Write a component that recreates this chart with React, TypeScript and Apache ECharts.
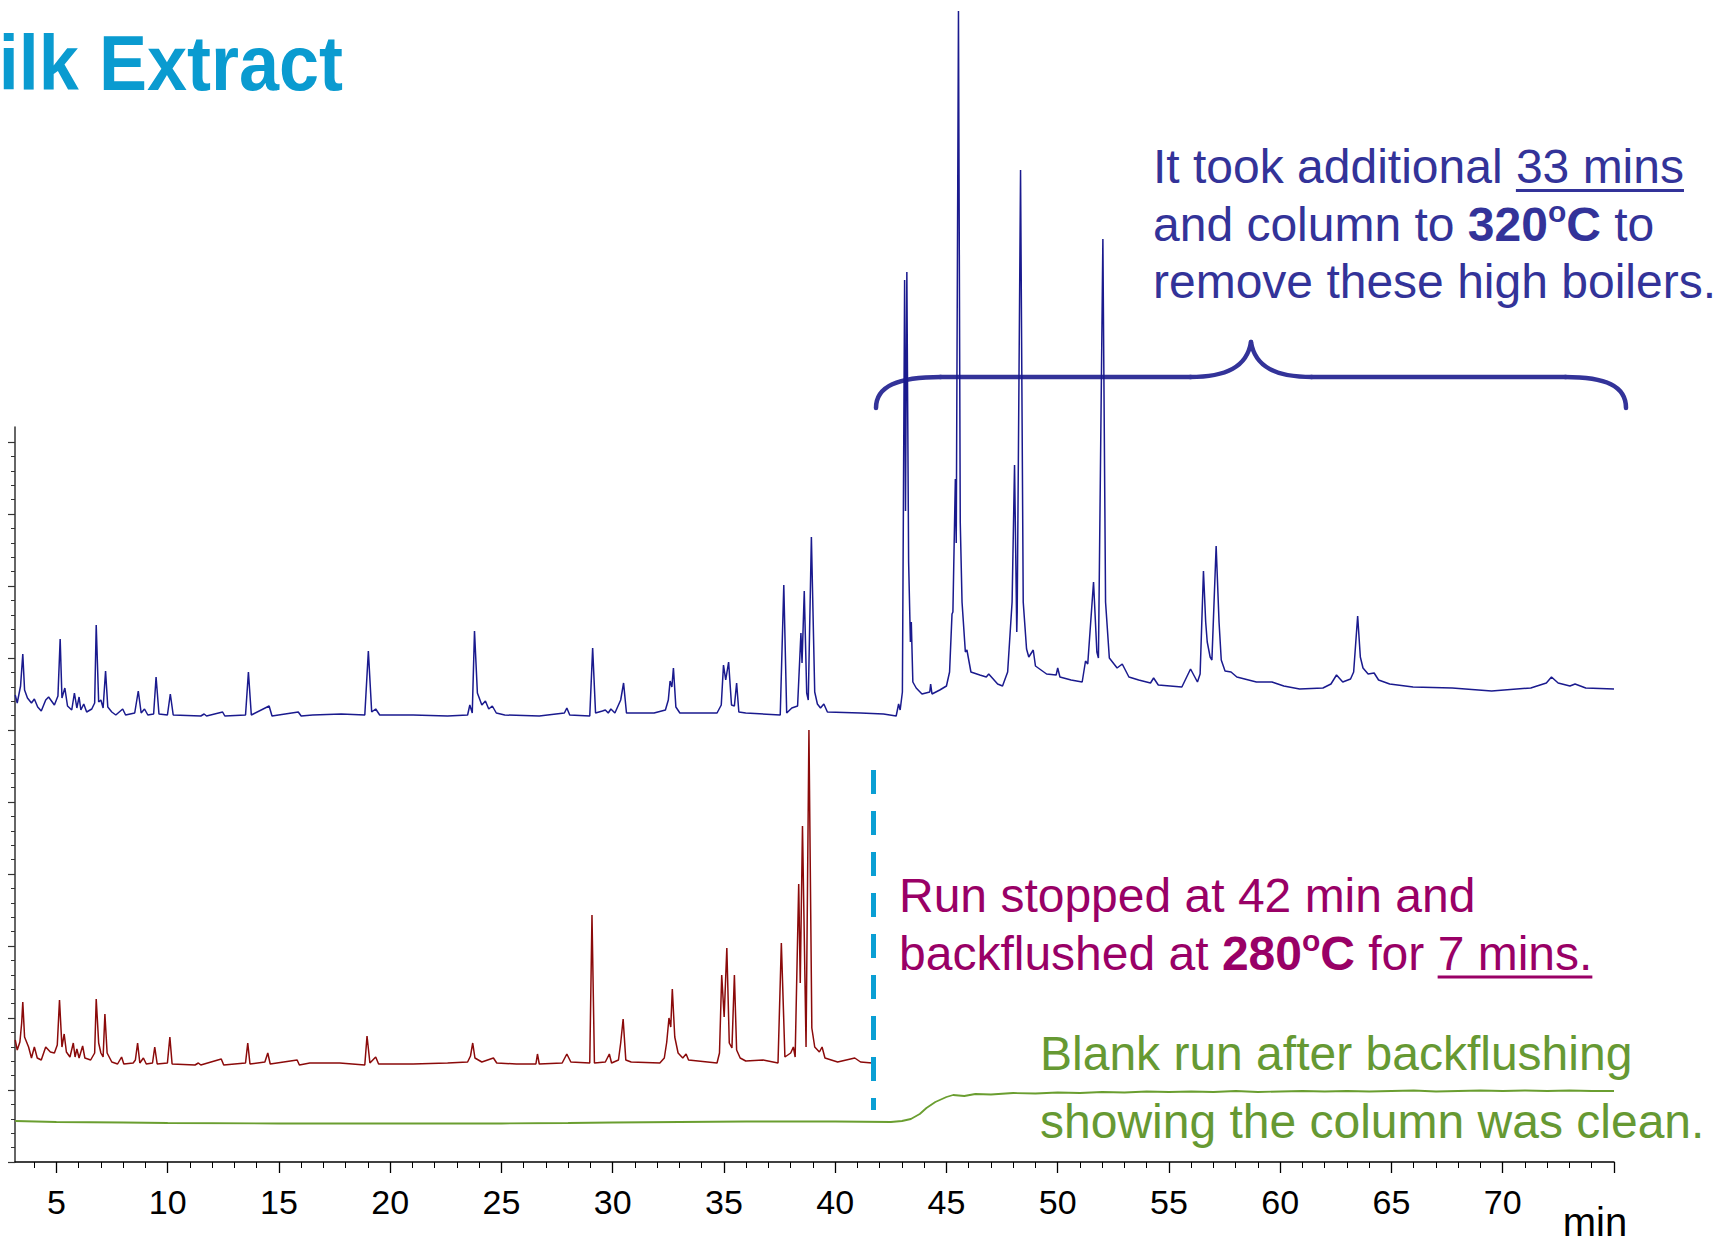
import React, { useEffect, useRef } from "react";
import * as echarts from "echarts";

const FONT = '"Liberation Sans", Arial, Helvetica, sans-serif';

// x axis (retention time, min)
const xTickLabels = [5, 10, 15, 20, 25, 30, 35, 40, 45, 50, 55, 60, 65, 70];
const xMajorTicks = [5, 10, 15, 20, 25, 30, 35, 40, 45, 50, 55, 60, 65, 70, 75];
const xMinorTicks = [4, 6, 7, 8, 9, 11, 12, 13, 14, 16, 17, 18, 19, 21, 22, 23, 24, 26, 27, 28, 29, 31, 32, 33, 34, 36, 37, 38, 39, 41, 42, 43, 44, 46, 47, 48, 49, 51, 52, 53, 54, 56, 57, 58, 59, 61, 62, 63, 64, 66, 67, 68, 69, 71, 72, 73, 74];
// decorative y axis ticks (arbitrary response units)
const yMajorTicks = [0, 72, 144, 216, 288, 360, 432, 504, 576, 648, 720];
const yMinorTicks = [14.4, 28.8, 43.2, 57.6, 86.4, 100.8, 115.2, 129.6, 158.4, 172.8, 187.2, 201.6, 230.4, 244.8, 259.2, 273.6, 302.4, 316.8, 331.2, 345.6, 374.4, 388.8, 403.2, 417.6, 446.4, 460.8, 475.2, 489.6, 518.4, 532.8, 547.2, 561.6, 590.4, 604.8, 619.2, 633.6, 662.4, 676.8, 691.2, 705.6];

// Blue trace: full run to 75 min (stacked, offset baseline ~446)
const blueTrace: [number, number][] = [
  [3.15, 467], [3.24, 459], [3.39, 476], [3.49, 508], [3.57, 472], [3.7, 464], [3.88, 459], [4.01, 463], [4.16, 455], [4.32, 451],
  [4.52, 462], [4.65, 465], [4.91, 457], [5.07, 466], [5.17, 523], [5.25, 464], [5.38, 474], [5.5, 456], [5.69, 452], [5.81, 469],
  [5.92, 454], [6.02, 465], [6.1, 452], [6.23, 458], [6.36, 450], [6.59, 453], [6.72, 459], [6.79, 537], [6.9, 460], [7.0, 462],
  [7.1, 454], [7.21, 491], [7.31, 455], [7.49, 450], [7.67, 447], [7.98, 453], [8.11, 447], [8.52, 449], [8.68, 471], [8.81, 449],
  [8.96, 453], [9.11, 447], [9.37, 448], [9.48, 485], [9.61, 448], [9.99, 447], [10.12, 468], [10.25, 447], [11.49, 446], [11.64, 448],
  [11.75, 446], [12.47, 450], [12.57, 446], [13.5, 447], [13.63, 490], [13.76, 447], [14.56, 456], [14.69, 446], [15.87, 450], [16.0, 446],
  [16.52, 447], [17.8, 448], [18.86, 447], [19.02, 511], [19.17, 450], [19.35, 453], [19.53, 447], [21.03, 447], [22.58, 446], [23.48, 447],
  [23.58, 457], [23.69, 449], [23.79, 531], [23.92, 469], [24.12, 457], [24.28, 461], [24.43, 453], [24.59, 456], [24.77, 449], [25.15, 447],
  [26.7, 446], [27.83, 449], [27.94, 454], [28.07, 447], [28.97, 446], [29.1, 514], [29.23, 449], [29.54, 451], [29.67, 452], [29.8, 449],
  [29.92, 453], [30.1, 449], [30.36, 462], [30.49, 479], [30.62, 449], [30.83, 449], [31.86, 449], [32.37, 452], [32.5, 462], [32.58, 481],
  [32.66, 475], [32.73, 494], [32.84, 455], [33.02, 449], [34.69, 449], [34.88, 457], [34.98, 497], [35.08, 482], [35.21, 500], [35.34, 457],
  [35.47, 456], [35.57, 479], [35.67, 450], [35.98, 449], [37.53, 447], [37.69, 577], [37.82, 449], [38.05, 454], [38.31, 456], [38.46, 529],
  [38.51, 499], [38.61, 571], [38.72, 469], [38.79, 462], [38.93, 625], [39.08, 470], [39.2, 458], [39.34, 454], [39.49, 458], [39.65, 450],
  [41.14, 449], [42.17, 448], [42.74, 446], [42.85, 458], [42.92, 452], [43.02, 470], [43.12, 882], [43.16, 651], [43.22, 890], [43.3, 600],
  [43.38, 520], [43.42, 540], [43.49, 480], [43.64, 474], [43.9, 468], [44.25, 470], [44.29, 478], [44.35, 468], [44.7, 472], [45.0, 476],
  [45.14, 490], [45.25, 548], [45.29, 550], [45.4, 683], [45.44, 619], [45.54, 1151], [45.62, 640], [45.7, 560], [45.85, 510], [45.92, 512],
  [46.1, 490], [46.5, 487], [46.79, 485], [46.9, 488], [47.3, 478], [47.52, 476], [47.75, 490], [47.95, 560], [48.06, 697], [48.16, 530],
  [48.18, 550], [48.33, 992], [48.45, 560], [48.6, 513], [48.7, 505], [48.9, 512], [49.0, 496], [49.5, 488], [49.93, 487], [50.0, 494],
  [50.1, 485], [50.6, 482], [51.1, 480], [51.25, 501], [51.35, 498], [51.61, 580], [51.76, 510], [51.83, 504], [52.03, 923], [52.15, 560],
  [52.32, 504], [52.67, 494], [52.9, 498], [53.2, 485], [53.64, 482], [54.17, 479], [54.31, 484], [54.52, 477], [55.58, 475], [55.97, 493],
  [56.28, 480], [56.4, 488], [56.55, 591], [56.65, 540], [56.72, 520], [56.85, 505], [56.93, 502], [57.12, 616], [57.25, 540], [57.35, 502],
  [57.52, 491], [57.79, 490], [58.05, 485], [58.93, 480], [59.63, 480], [60.16, 476], [60.87, 473], [61.92, 474], [62.28, 478], [62.53, 487],
  [62.81, 480], [63.16, 483], [63.3, 490], [63.48, 546], [63.6, 505], [63.72, 494], [63.95, 488], [64.22, 489], [64.42, 482], [64.92, 478],
  [65.97, 475], [67.73, 474], [69.5, 471], [71.26, 474], [71.96, 479], [72.19, 485], [72.49, 479], [73.02, 476], [73.25, 478], [73.73, 474],
  [75, 473],
];

// Red trace: run stopped at ~41.8 min (offset baseline ~98)
const redTrace: [number, number][] = [
  [3.15, 122], [3.24, 112], [3.36, 120], [3.44, 139], [3.49, 160], [3.57, 125], [3.75, 115], [3.88, 104], [4.01, 115], [4.14, 104],
  [4.32, 102], [4.52, 115], [4.73, 110], [4.91, 109], [5.04, 117], [5.14, 162], [5.25, 115], [5.35, 128], [5.45, 110], [5.61, 105],
  [5.76, 119], [5.84, 105], [5.92, 113], [6.02, 104], [6.18, 116], [6.28, 104], [6.54, 102], [6.72, 109], [6.79, 163], [6.9, 119],
  [7.0, 109], [7.1, 105], [7.18, 148], [7.28, 109], [7.49, 100], [7.75, 98], [7.93, 105], [8.03, 98], [8.45, 99], [8.55, 102],
  [8.65, 119], [8.75, 99], [8.91, 104], [9.04, 98], [9.32, 99], [9.42, 115], [9.53, 98], [9.99, 99], [10.1, 125], [10.2, 98],
  [11.23, 97], [11.38, 99], [11.49, 97], [12.41, 103], [12.52, 97], [13.5, 99], [13.6, 119], [13.7, 98], [14.37, 100], [14.5, 109],
  [14.61, 98], [15.82, 102], [15.92, 97], [16.39, 99], [16.9, 99], [17.29, 99], [17.73, 99], [18.86, 97], [18.96, 126], [19.09, 99],
  [19.35, 105], [19.48, 98], [21.03, 98], [22.58, 99], [23.48, 100], [23.61, 106], [23.71, 119], [23.81, 104], [24.12, 100], [24.64, 104],
  [24.79, 99], [25.67, 98], [26.55, 98], [26.62, 108], [26.7, 98], [27.73, 99], [27.94, 108], [28.12, 100], [28.97, 99], [29.07, 247],
  [29.18, 99], [29.67, 100], [29.85, 108], [29.95, 99], [30.26, 102], [30.36, 119], [30.47, 143], [30.59, 102], [30.83, 100], [32.12, 99],
  [32.32, 104], [32.43, 120], [32.53, 144], [32.61, 135], [32.68, 173], [32.79, 125], [32.94, 109], [33.15, 104], [33.3, 108], [33.41, 102],
  [34.69, 99], [34.8, 109], [34.9, 187], [35.01, 145], [35.13, 214], [35.24, 119], [35.36, 114], [35.47, 187], [35.57, 112], [35.73, 104],
  [35.98, 101], [36.76, 102], [37.43, 99], [37.58, 219], [37.74, 105], [38.0, 109], [38.12, 115], [38.2, 105], [38.36, 278], [38.43, 179],
  [38.53, 336], [38.69, 115], [38.82, 432], [38.95, 134], [39.08, 115], [39.29, 110], [39.41, 115], [39.54, 104], [40.11, 100], [40.88, 104],
  [41.14, 100], [41.66, 99], [41.76, 98],
];

// Green trace: blank run after backflushing
const greenTrace: [number, number][] = [
  [3.15, 41], [5, 40], [8, 39.5], [10, 39], [15, 38.5], [20, 38.5], [25, 38.5], [28, 39], [30, 39.5], [33, 40],
  [36, 40.5], [40, 40.5], [42.5, 40], [43.0, 41], [43.4, 43], [43.8, 48], [44.1, 54], [44.5, 60], [45.0, 65], [45.3, 67],
  [45.8, 66], [46.3, 68], [47, 67.5], [48, 69], [49, 68.5], [50, 69.5], [51, 69], [52, 70], [53, 69.5], [54, 70.5],
  [55, 70], [56, 70.5], [57, 70], [58, 71], [59, 70], [60, 70.5], [61, 71], [62, 70.5], [63, 71], [64, 70.5],
  [65, 71], [66, 71.5], [67, 70.5], [68, 71], [69, 71.5], [70, 71], [71, 71.5], [72, 71], [73, 71.5], [74, 71], [75, 71],
];

// backflush marker (time, y-range)
const stopTime = 41.72;
const stopRange = [392, 52];

type Seg = { t: string; b?: boolean; sup?: boolean; u?: boolean };
const blueLines: Seg[][] = [
  [{ t: "It took additional " }, { t: "33 mins", u: true }],
  [{ t: "and column to " }, { t: "320", b: true }, { t: "o", b: true, sup: true }, { t: "C", b: true }, { t: " to" }],
  [{ t: "remove these high boilers." }],
];
const redLines: Seg[][] = [
  [{ t: "Run stopped at 42 min and" }],
  [{ t: "backflushed at " }, { t: "280", b: true }, { t: "o", b: true, sup: true }, { t: "C", b: true }, { t: " for " }, { t: "7 mins.", u: true }],
];
const greenLines: Seg[][] = [
  [{ t: "Blank run after backflushing" }],
  [{ t: "showing the column was clean." }],
];

export default function App() {
  const ref = useRef<HTMLDivElement>(null);
  useEffect(() => {
    if (!ref.current) return;
    const chart = echarts.init(ref.current, null, { renderer: "svg" });
    const cvs = document.createElement("canvas");
    const ctx = cvs.getContext("2d")!;
    const measure = (s: string, size: number, bold: boolean) => {
      ctx.font = `${bold ? "bold " : ""}${size}px ${FONT}`;
      return ctx.measureText(s).width;
    };
    const graphics: any[] = [];
    const buildBlock = (lines: Seg[][], x0: number, baselines: number[], color: string) => {
      lines.forEach((segs, i) => {
        let x = x0;
        const base = baselines[i];
        for (const s of segs) {
          const size = s.sup ? 30 : 48;
          const w = measure(s.t, size, !!s.b);
          const by = s.sup ? base - 19 : base;
          graphics.push({
            type: "text",
            silent: true,
            style: {
              text: s.t, x, y: by - 0.3465 * size, fill: color,
              fontSize: size, fontWeight: s.b ? "bold" : "normal", fontFamily: FONT,
              textAlign: "left", textVerticalAlign: "middle", align: "left", verticalAlign: "middle",
            },
          });
          if (s.u) {
            graphics.push({
              type: "line", silent: true,
              shape: { x1: x, y1: base + 7, x2: x + w, y2: base + 7 },
              style: { stroke: color, lineWidth: 3 },
            });
          }
          x += w;
        }
      });
    };
    buildBlock(blueLines, 1153, [183.5, 240.7, 298.3], "#333399");
    buildBlock(redLines, 899, [912, 970], "#990066");
    buildBlock(greenLines, 1040, [1070, 1138], "#669933");

    // title
    graphics.push({
      type: "text", silent: true, x: 343, y: 90, scaleY: 1.09,
      style: {
        text: "ilk Extract", x: 0, y: -0.3465 * 72, fill: "#0a9bd0",
        fontSize: 72, fontWeight: "bold", fontFamily: FONT,
        textAlign: "right", textVerticalAlign: "middle", align: "right", verticalAlign: "middle",
      },
    });
    // axis unit
    graphics.push({
      type: "text", silent: true,
      style: {
        text: "min", x: 1595, y: 1236 - 0.3465 * 40, fill: "#000",
        fontSize: 40, fontFamily: FONT,
        textAlign: "center", textVerticalAlign: "middle", align: "center", verticalAlign: "middle",
      },
    });
    // brace
    const braceStyle = { stroke: "#333399", lineWidth: 4.5, fill: "none", lineCap: "round" };
    graphics.push({
      type: "group", silent: true,
      children: [
        { type: "bezierCurve", shape: { x1: 876, y1: 408, cpx1: 876, cpy1: 386, cpx2: 898, cpy2: 377, x2: 941, y2: 377 }, style: braceStyle },
        { type: "line", shape: { x1: 940, y1: 377, x2: 1191, y2: 377 }, style: braceStyle },
        { type: "bezierCurve", shape: { x1: 1190, y1: 377, cpx1: 1226, cpy1: 377, cpx2: 1247, cpy2: 367, x2: 1251, y2: 342 }, style: braceStyle },
        { type: "bezierCurve", shape: { x1: 1251, y1: 342, cpx1: 1255, cpy1: 367, cpx2: 1276, cpy2: 377, x2: 1312, y2: 377 }, style: braceStyle },
        { type: "line", shape: { x1: 1311, y1: 377, x2: 1566, y2: 377 }, style: braceStyle },
        { type: "bezierCurve", shape: { x1: 1565, y1: 377, cpx1: 1606, cpy1: 377, cpx2: 1626, cpy2: 386, x2: 1626, y2: 408 }, style: braceStyle },
      ],
    });

    const option: any = {
      animation: false,
      backgroundColor: "#ffffff",
      grid: [
        { left: 15, right: 101, top: 2, bottom: 86 },
        { left: 15, right: 101, top: 427, bottom: 86 },
      ],
      xAxis: [
        {
          type: "value", gridIndex: 0, min: 3.14, max: 75, position: "bottom", offset: 0,
          axisLine: { show: true, onZero: false, lineStyle: { color: "#000", width: 1.5 } },
          axisTick: { show: true, length: 11, customValues: xMajorTicks, lineStyle: { color: "#000", width: 1.3 } },
          axisLabel: { show: true, customValues: xTickLabels, fontSize: 34, color: "#000", margin: 23, fontFamily: FONT },
          splitLine: { show: false },
        },
        {
          type: "value", gridIndex: 0, min: 3.14, max: 75, position: "bottom", offset: 0,
          axisLine: { show: false, onZero: false },
          axisTick: { show: true, length: 6, customValues: xMinorTicks, lineStyle: { color: "#000", width: 1 } },
          axisLabel: { show: false },
          splitLine: { show: false },
        },
        { type: "value", gridIndex: 1, min: 0, max: 1, show: false },
      ],
      yAxis: [
        { type: "value", gridIndex: 0, min: 0, max: 1160, show: false },
        {
          type: "value", gridIndex: 1, min: 0, max: 735, position: "left", offset: 0,
          axisLine: { show: true, onZero: false, lineStyle: { color: "#333", width: 1.5 } },
          axisTick: { show: true, length: 7, customValues: yMajorTicks, lineStyle: { color: "#333", width: 1.2 } },
          axisLabel: { show: false },
          splitLine: { show: false },
        },
        {
          type: "value", gridIndex: 1, min: 0, max: 735, position: "left", offset: 0,
          axisLine: { show: false, onZero: false },
          axisTick: { show: true, length: 4, customValues: yMinorTicks, lineStyle: { color: "#333", width: 1 } },
          axisLabel: { show: false },
          splitLine: { show: false },
        },
      ],
      series: [
        {
          type: "line", name: "Blank", xAxisIndex: 0, yAxisIndex: 0, data: greenTrace,
          showSymbol: false, symbol: "none", lineStyle: { color: "#6a9e30", width: 1.8 }, silent: true,
        },
        {
          type: "line", name: "Backflushed", xAxisIndex: 0, yAxisIndex: 0, data: redTrace,
          showSymbol: false, symbol: "none", lineStyle: { color: "#8b0a0a", width: 1.5 }, silent: true,
          markLine: {
            silent: true, symbol: ["none", "none"], label: { show: false },
            lineStyle: { color: "#0a9fd4", width: 5, type: [24, 17] },
            data: [[{ coord: [stopTime, stopRange[0]] }, { coord: [stopTime, stopRange[1]] }]],
          },
        },
        {
          type: "line", name: "Full run", xAxisIndex: 0, yAxisIndex: 0, data: blueTrace,
          showSymbol: false, symbol: "none", lineStyle: { color: "#1a1a8e", width: 1.5 }, silent: true,
        },
      ],
      graphic: { elements: graphics },
    };
    chart.setOption(option);
    return () => chart.dispose();
  }, []);
  return (
    <div
      ref={ref}
      style={{ position: "absolute", left: 0, top: 0, width: 1715, height: 1248, background: "#fff" }}
    />
  );
}
